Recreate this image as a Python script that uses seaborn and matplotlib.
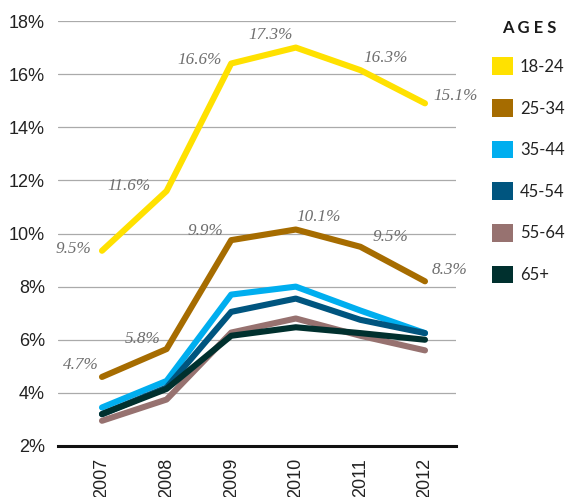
import pandas as pd
import matplotlib
matplotlib.use('Agg')
import matplotlib.pyplot as plt
from matplotlib.patches import Patch
from matplotlib.ticker import FixedLocator
import seaborn as sns

# Data (percent)
years = [2007, 2008, 2009, 2010, 2011, 2012]
ages = ['18-24', '25-34', '35-44', '45-54', '55-64', '65+']
age_18_24 = [9.35, 11.6, 16.4, 17.0, 16.15, 14.9]
age_25_34 = [4.6, 5.65, 9.75, 10.15, 9.5, 8.2]
age_35_44 = [3.45, 4.45, 7.7, 8.0, 7.1, 6.25]
age_45_54 = [3.2, 4.2, 7.05, 7.55, 6.75, 6.25]
age_55_64 = [2.95, 3.75, 6.27, 6.8, 6.15, 5.6]
age_65_plus = [3.2, 4.15, 6.15, 6.47, 6.25, 6.0]

# printed labels
labels_18_24 = ['9.5%', '11.6%', '16.6%', '17.3%', '16.3%', '15.1%']
labels_25_34 = ['4.7%', '5.8%', '9.9%', '10.1%', '9.5%', '8.3%']

colors = ['#FFE100', '#A66C00', '#00AEEF', '#00557F', '#977270', '#00302E']

series = [age_18_24, age_25_34, age_35_44, age_45_54, age_55_64, age_65_plus]
df = pd.DataFrame({
    'year': years * len(ages),
    'rate': [v for s in series for v in s],
    'age': [a for a in ages for _ in years],
})

sns.set_style('white')
plt.rcParams['font.family'] = ['Liberation Sans', 'DejaVu Sans']

fig = plt.figure(figsize=(5.67, 4.97), dpi=100)
ax = fig.add_axes([58 / 567, 1 - 446 / 497, 398 / 567, 425 / 497])

sns.lineplot(data=df, x='year', y='rate', hue='age', hue_order=ages,
             palette=dict(zip(ages, colors)), linewidth=4.4, legend=False,
             solid_capstyle='round', solid_joinstyle='round', ax=ax)

# value labels (offsets in pixels: right-aligned ones sit left of the point)
offsets_18_24 = [(-11, 2, 'right'), (-16, 5, 'right'), (-9, 4, 'right'),
                 (-3, 13, 'right'), (3, 12, 'left'), (8, 7, 'left')]
offsets_25_34 = [(-3, 12, 'right'), (-6, 10, 'right'), (-8, 9, 'right'),
                 (1, 13, 'left'), (12, 10, 'left'), (7, 11, 'left')]
for vals, labs, offs in [(age_18_24, labels_18_24, offsets_18_24),
                         (age_25_34, labels_25_34, offsets_25_34)]:
    for x, y, t, (dx, dy, ha) in zip(years, vals, labs, offs):
        ax.annotate(t, (x, y), xytext=(dx, dy), textcoords='offset pixels',
                    ha=ha, va='center', fontsize=12.3, style='italic',
                    family='Liberation Serif', color='#6e6e6e')

ax.set_xlim(2007 - 0.681, 2007 + 5.48)
ax.set_ylim(2, 18)
ax.set_yticks(range(2, 19, 2))
ax.set_yticklabels([f'{v}%' for v in range(2, 19, 2)])
ax.set_xticks(years)
ax.set_xticklabels([str(y) for y in years], rotation=90)
ax.xaxis.set_minor_locator(FixedLocator([y + 0.545 for y in years[:-1]]))
ax.tick_params(axis='x', which='major', length=0, pad=8.6, labelsize=13, labelcolor='#222222')
ax.tick_params(axis='x', which='minor', length=8.6, width=0.9, color='#999999', direction='out')
ax.tick_params(axis='y', length=0, pad=9.4, labelsize=13, labelcolor='#222222')
ax.set_xlabel('')
ax.set_ylabel('')

ax.grid(axis='y', color='#aaaaaa', linewidth=0.9)
ax.grid(axis='x', visible=False)
ax.set_axisbelow(True)
for side in ['top', 'right', 'left']:
    ax.spines[side].set_visible(False)
ax.spines['bottom'].set_color('#111111')
ax.spines['bottom'].set_linewidth(2.2)
ax.spines['bottom'].set_zorder(5)

# legend
fig.text(529.5 / 567, 1 - 28 / 497, 'A G E S', ha='center', va='center',
         fontsize=12, fontweight='bold', family='Lato', color='#1a1a1a')
handles = [Patch(facecolor=c, edgecolor='none', label=a) for a, c in zip(ages, colors)]
fig.legend(handles=handles, loc='upper left', bbox_to_anchor=(492 / 567, 1 - 57.5 / 497),
           frameon=False, borderpad=0, borderaxespad=0, handlelength=1.25,
           handleheight=1.25, handletextpad=0.42, labelspacing=1.44,
           prop={'family': 'Lato', 'size': 12}, labelcolor='#222222')

fig.savefig('out.png', dpi=100)
